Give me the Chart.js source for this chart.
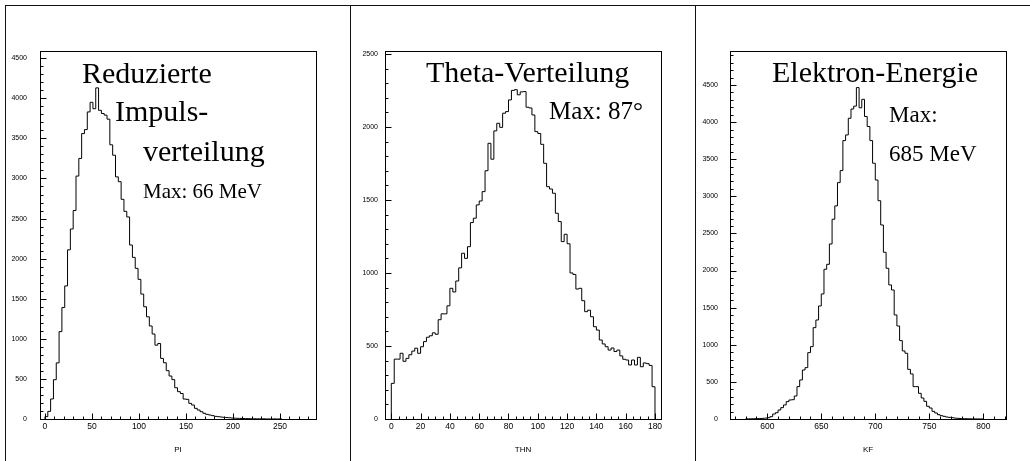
<!DOCTYPE html>
<html><head><meta charset="utf-8">
<script src="https://cdn.jsdelivr.net/npm/chart.js@4.4.0/dist/chart.umd.min.js"></script>
<style>
html,body{margin:0;padding:0;background:#fff;}
#wrap{position:relative;width:1030px;height:461px;overflow:hidden;background:#fff;}
canvas{position:absolute;top:0;}
.ln{position:absolute;background:#111;}
</style></head><body>
<div id="wrap">
<canvas id="c1" width="345" height="461" style="left:0px"></canvas>
<canvas id="c2" width="345" height="461" style="left:345px"></canvas>
<canvas id="c3" width="340" height="461" style="left:690px"></canvas>
<div class="ln" style="left:5px;top:5px;width:1025px;height:1px"></div>
<div class="ln" style="left:5px;top:5px;width:1px;height:456px"></div>
<div class="ln" style="left:350px;top:5px;width:1px;height:456px"></div>
<div class="ln" style="left:695px;top:5px;width:1px;height:456px"></div>
</div>
<script>
// ---------- DATA ----------
// Panel 1: PI (reduced momentum), bins of 3 MeV starting at 0
const piBinStart = 0;
const piBinWidth = 3;
const piCounts = [30, 95, 250, 490, 700, 1090, 1390, 1660, 2110, 2370, 2600, 3030, 3250, 3560, 3610, 3830, 3950, 3870, 4130, 3850,
  3810, 3790, 3740, 3420, 3290, 3020, 2960, 2740, 2590, 2520, 2170, 2016, 1879, 1742, 1558, 1400, 1275, 1160, 1060, 921,
  942, 756, 702, 603, 536, 491, 390, 341, 318, 249, 245, 195, 174, 133, 112, 91, 71, 58, 50, 42,
  33, 29, 25, 21, 18, 15, 12, 10, 8, 7, 6, 5, 4, 3, 3, 2, 2, 2, 1, 1, 1, 1, 0, 1];
const piXTicks = [0, 50, 100, 150, 200, 250];
const piYTicks = [0, 500, 1000, 1500, 2000, 2500, 3000, 3500, 4000, 4500];

// Panel 2: THN (theta), bins of 2 degrees from 0 to 180
const thnBinStart = 0;
const thnBinWidth = 2;
const thnCounts = [244, 410, 410, 450, 395, 415, 440, 465, 485, 450, 495, 530, 560, 570, 590, 580, 680, 720, 720, 775,
  895, 870, 945, 1035, 1135, 1100, 1180, 1345, 1375, 1466, 1493, 1557, 1700, 1888, 1779, 1973, 2025, 1997, 2094, 2105,
  2185, 2250, 2255, 2220, 2240, 2242, 2135, 2130, 2082, 1968, 1955, 1881, 1751, 1591, 1575, 1546, 1409, 1352, 1215, 1265,
  1200, 1000, 990, 890, 895, 810, 735, 745, 700, 632, 609, 541, 514, 495, 472, 486, 462, 472, 432, 409,
  404, 370, 404, 370, 422, 358, 384, 379, 367, 221];
const thnXTicks = [0, 20, 40, 60, 80, 100, 120, 140, 160, 180];
const thnYTicks = [0, 500, 1000, 1500, 2000, 2500];

// Panel 3: KF (electron energy), bins of 2.5 MeV starting at 580
const kfBinStart = 580;
const kfBinWidth = 2.5;
const kfCounts = [2, 2, 3, 4, 5, 7, 9, 12, 18, 31, 67, 85, 121, 153, 189, 234, 256, 260, 310, 436,
  526, 660, 692, 894, 975, 1231, 1334, 1523, 1685, 2017, 2084, 2358, 2691, 2871, 3185, 3347, 3751, 3827, 4052, 4176,
  4215, 4465, 4193, 4307, 4076, 3941, 3751, 3446, 3220, 2941, 2614, 2246, 2031, 1806, 1738, 1402, 1253, 1056, 917, 886,
  669, 607, 436, 436, 346, 283, 238, 171, 148, 103, 81, 58, 45, 36, 27, 22, 18, 13, 9, 7,
  5, 4, 3, 2, 2, 1, 1, 1];
const kfXTicks = [600, 650, 700, 750, 800];
const kfYTicks = [0, 500, 1000, 1500, 2000, 2500, 3000, 3500, 4000, 4500];

// ---------- RENDERING ----------
function histPoints(start, width, counts) {
  const pts = [{x: start, y: 0}];
  counts.forEach((c, i) => pts.push({x: start + i * width, y: c}));
  const end = start + counts.length * width;
  pts.push({x: end, y: counts[counts.length - 1]});
  pts.push({x: end, y: 0});
  return pts;
}

const pawPlugin = {
  id: 'paw',
  afterDatasetsDraw(chart, args, o) {
    const ctx = chart.ctx, a = chart.chartArea;
    const xs = chart.scales.x, ys = chart.scales.y;
    ctx.save();
    ctx.strokeStyle = '#000';
    ctx.lineWidth = 1;
    const L = Math.round(a.left), T = Math.round(a.top), R = Math.round(a.right), B = Math.round(a.bottom);
    ctx.strokeRect(L + 0.5, T + 0.5, R - L, B - T);
    ctx.beginPath();
    const nx0 = Math.ceil(xs.min / o.xMinor - 1e-9), nx1 = Math.floor(xs.max / o.xMinor + 1e-9);
    for (let k = nx0; k <= nx1; k++) {
      const v = k * o.xMinor;
      const r = v / o.xMajor;
      const major = Math.abs(r - Math.round(r)) < 1e-6;
      const px = Math.round(xs.getPixelForValue(v)) + 0.5;
      ctx.moveTo(px, B + 0.5);
      ctx.lineTo(px, B + 0.5 - (major ? 6 : 3));
    }
    const ny0 = Math.ceil(ys.min / o.yMinor - 1e-9), ny1 = Math.floor(ys.max / o.yMinor + 1e-9);
    for (let k = ny0; k <= ny1; k++) {
      const v = k * o.yMinor;
      const r = v / o.yMajor;
      const major = Math.abs(r - Math.round(r)) < 1e-6;
      const py = Math.round(ys.getPixelForValue(v)) + 0.5;
      ctx.moveTo(L + 0.5, py);
      ctx.lineTo(L + 0.5 + (major ? 6 : 3), py);
    }
    ctx.stroke();
    ctx.fillStyle = '#000';
    ctx.textBaseline = 'alphabetic';
    ctx.textAlign = 'left';
    o.texts.forEach(t => {
      ctx.font = t.size + 'px "Liberation Serif", "Times New Roman", serif';
      ctx.fillText(t.text, t.x, t.y);
    });
    ctx.restore();
  }
};

function makeChart(id, cfg) {
  const tickFont = {family: '"Liberation Sans", Arial, sans-serif'};
  return new Chart(document.getElementById(id), {
    type: 'line',
    data: {
      datasets: [{
        data: histPoints(cfg.start, cfg.width, cfg.counts),
        stepped: 'before',
        borderColor: '#000',
        borderWidth: 1,
        pointRadius: 0,
        fill: false,
        tension: 0
      }]
    },
    options: {
      responsive: false,
      animation: false,
      events: [],
      devicePixelRatio: 1,
      layout: {padding: {top: 51, right: cfg.padRight, left: 0, bottom: 0}},
      plugins: {
        legend: {display: false},
        tooltip: {enabled: false},
        paw: {xMinor: cfg.xMinor, xMajor: cfg.xMajor, yMinor: 100, yMajor: 500, texts: cfg.texts}
      },
      scales: {
        x: {
          type: 'linear',
          min: cfg.xMin, max: cfg.xMax,
          afterFit: s => { s.height = 42; },
          afterBuildTicks: s => { s.ticks = cfg.xTicks.map(v => ({value: v})); },
          grid: {display: false, drawTicks: false},
          border: {display: false},
          ticks: {autoSkip: false, maxRotation: 0, padding: 3, color: '#000',
                  callback: v => String(v),
                  font: Object.assign({size: 8.5}, tickFont)},
          title: {display: true, text: cfg.xTitle, color: '#000', padding: {top: 0, bottom: 6},
                  font: Object.assign({size: 8}, tickFont)}
        },
        y: {
          type: 'linear',
          min: 0, max: cfg.yMax,
          afterFit: s => { s.width = 40; },
          afterBuildTicks: s => { s.ticks = cfg.yTicks.map(v => ({value: v})); },
          grid: {display: false, drawTicks: false},
          border: {display: false},
          ticks: {autoSkip: false, padding: cfg.yLabelPad, color: '#000',
                  callback: v => String(v),
                  font: Object.assign({size: 7}, tickFont)}
        }
      }
    },
    plugins: [pawPlugin]
  });
}

makeChart('c1', {
  start: piBinStart, width: piBinWidth, counts: piCounts,
  xMin: -5.3, xMax: 288.3, yMax: 4590, xTicks: piXTicks, yTicks: piYTicks,
  xMinor: 10, xMajor: 50, xTitle: 'PI', padRight: 29, yLabelPad: 13,
  texts: [
    {text: 'Reduzierte', x: 82, y: 83, size: 30},
    {text: 'Impuls-', x: 115, y: 121, size: 30},
    {text: 'verteilung', x: 143, y: 161, size: 30},
    {text: 'Max: 66 MeV', x: 143, y: 198, size: 21}
  ]
});

makeChart('c2', {
  start: thnBinStart, width: thnBinWidth, counts: thnCounts,
  xMin: -4.3, xMax: 184.1, yMax: 2520, xTicks: thnXTicks, yTicks: thnYTicks,
  xMinor: 5, xMajor: 20, xTitle: 'THN', padRight: 29, yLabelPad: 7,
  texts: [
    {text: 'Theta-Verteilung', x: 81, y: 82, size: 30},
    {text: 'Max: 87°', x: 204, y: 119, size: 25}
  ]
});

makeChart('c3', {
  start: kfBinStart, width: kfBinWidth, counts: kfCounts,
  xMin: 565.5, xMax: 821, yMax: 4958, xTicks: kfXTicks, yTicks: kfYTicks,
  xMinor: 10, xMajor: 50, xTitle: 'KF', padRight: 24, yLabelPad: 12,
  texts: [
    {text: 'Elektron-Energie', x: 82, y: 82, size: 30},
    {text: 'Max:', x: 199, y: 122, size: 23},
    {text: '685 MeV', x: 199, y: 161, size: 23}
  ]
});
</script>
</body></html>
